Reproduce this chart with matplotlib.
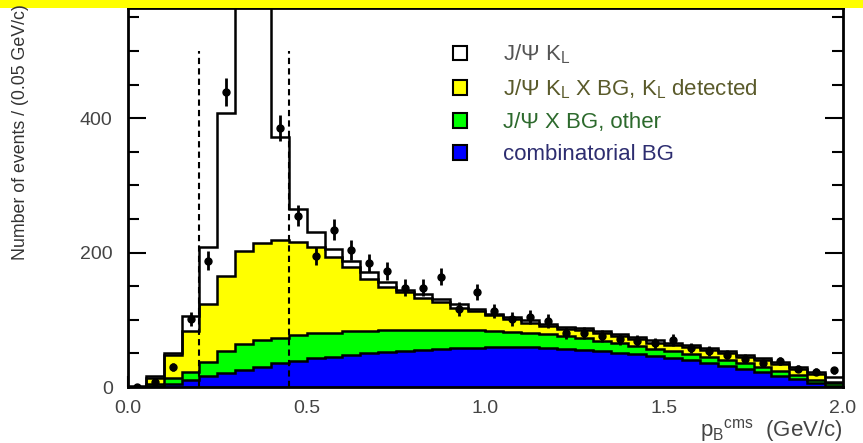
import numpy as np
import matplotlib
matplotlib.use("Agg")
import matplotlib.pyplot as plt
from matplotlib.patches import Patch, Rectangle

plt.rcParams['font.family'] = ['Liberation Sans', 'DejaVu Sans']
plt.rcParams['mathtext.default'] = 'regular'

# ---------------------------------------------------------------------
# data: 40 bins of 0.05 GeV/c, stacked tops
# ---------------------------------------------------------------------
edges = np.linspace(0.0, 2.0, 41)

# J/psi K_L signal + all backgrounds (outline)
total = np.array([1, 16, 51, 106, 208, 407, 800, 700, 372, 265,
                  231, 205, 188, 171, 156, 145, 138, 131, 123, 116,
                  109, 104, 99, 94, 90, 88, 84, 79, 75, 70,
                  66, 62, 58, 53, 48, 43, 37, 30, 23, 15])
# top of yellow (K_L detected BG, stacked)
yellow_top = np.array([0, 13, 47, 83, 123, 165, 202, 215, 219, 216,
                       208, 193, 178, 161, 149, 141, 133, 126, 118, 113,
                       107, 101, 95, 91, 87, 85, 81, 76, 72, 66,
                       62, 59, 55, 50, 45, 40, 34, 27, 20, 7])
# top of green (other J/psi X BG, stacked)
green_top = np.array([0, 4, 13, 23, 37, 53, 64, 70, 73, 77,
                      80, 81, 83, 84, 85, 85, 85, 85, 85, 85,
                      84, 82, 80, 79, 76, 73, 69, 65, 61, 57,
                      53, 49, 45, 40, 35, 30, 24, 18, 11, 6])
# combinatorial BG
blue_top = np.array([0, 1.5, 5, 10, 16, 21, 26, 30, 35, 39,
                     43, 45, 48, 50, 52, 54, 55, 57, 58, 58,
                     59, 59, 59, 58, 57, 55, 53, 51, 49, 46,
                     43, 40, 35, 31, 27, 22, 17, 12, 6, 2])

# data points
data = np.array([0, 7, 30, 101, 188, 439, 900, 800, 385, 255,
                 195, 234, 204, 185, 173, 148, 148, 164, 116, 142,
                 113, 101, 104, 98, 80, 81, 76, 71, 69, 65,
                 70, 58, 54, 48, 42, 35, 39, 27, 23, 25])

signal_window = [0.2, 0.45]

labels = [r'J/Ψ K$_{L}$', r'J/Ψ K$_{L}$ X BG, K$_{L}$ detected',
          'J/Ψ X BG, other', 'combinatorial BG']
fill_colors = ['white', '#ffff00', '#00ff00', '#0000ff']
text_colors = ['#555555', '#5a5a2a', '#2d6a2d', '#2d2d70']

# ---------------------------------------------------------------------
# plot
# ---------------------------------------------------------------------
fig = plt.figure(figsize=(8.63, 4.43), dpi=100)
ax = fig.add_axes([0.1483, 0.1264, 0.8285, 0.8556])

# yellow frame strip above the plot
fig.patches.append(Rectangle((0, 0.982), 1, 0.02, transform=fig.transFigure,
                             facecolor='#ffff00', edgecolor='none', zorder=0))

ax.stairs(total, edges, baseline=0, fill=True, color='white', zorder=1)
ax.stairs(yellow_top, edges, baseline=0, fill=True, color='#ffff00', zorder=2)
ax.stairs(green_top, edges, baseline=0, fill=True, color='#00ff00', zorder=3)
ax.stairs(blue_top, edges, baseline=0, fill=True, color='#0000ff', zorder=4)
for top in [total, yellow_top, green_top, blue_top]:
    ax.stairs(top, edges, baseline=None, color='black', lw=1.8, zorder=5)

for xv in signal_window:
    ax.plot([xv, xv], [0, 500], color='black', ls=(0, (3, 2)), lw=1.5, zorder=6)

centers = 0.5 * (edges[:-1] + edges[1:])
ax.errorbar(centers, data, yerr=np.sqrt(data), fmt='o', color='black',
            ms=5, elinewidth=2, capsize=0, zorder=7)

ax.set_xlim(0, 2)
ax.set_ylim(0, 564)
ax.set_xticks([0.0, 0.5, 1.0, 1.5, 2.0])
ax.set_xticklabels(['0.0', '0.5', '1.0', '1.5', '2.0'])
ax.set_yticks([0, 200, 400])
ax.set_yticks(np.arange(0, 564, 50), minor=True)
ax.set_axisbelow(True)
ax.tick_params(axis='y', which='major', direction='in', length=13, width=1.5,
               right=True, labelsize=14, labelcolor='#444444', pad=11)
ax.tick_params(axis='y', which='minor', direction='in', length=8, width=1.5,
               right=True)
ax.tick_params(axis='x', which='major', direction='in', length=8, width=1.5,
               labelsize=14, labelcolor='#444444', pad=9)
for sp in ax.spines.values():
    sp.set_linewidth(2)
    sp.set_zorder(8)

ax.set_xlabel(r'p$_{B}$$^{cms}$  (GeV/c)', loc='right', fontsize=16,
              color='#444444', labelpad=0)
fig.text(0.024, 0.413, 'Number of events / (0.05 GeV/c)', rotation=90,
         ha='center', va='bottom', fontsize=12.8, color='#333333')

handles = [Patch(facecolor=c, edgecolor='black', lw=1.5) for c in fill_colors]
ax.legend(handles, labels, loc='upper left', bbox_to_anchor=(0.427, 0.961),
          frameon=False, fontsize=16, labelcolor=text_colors,
          handlelength=0.63, handleheight=0.63, handletextpad=1.6,
          labelspacing=0.5)

fig.savefig('out.png', dpi=100)
